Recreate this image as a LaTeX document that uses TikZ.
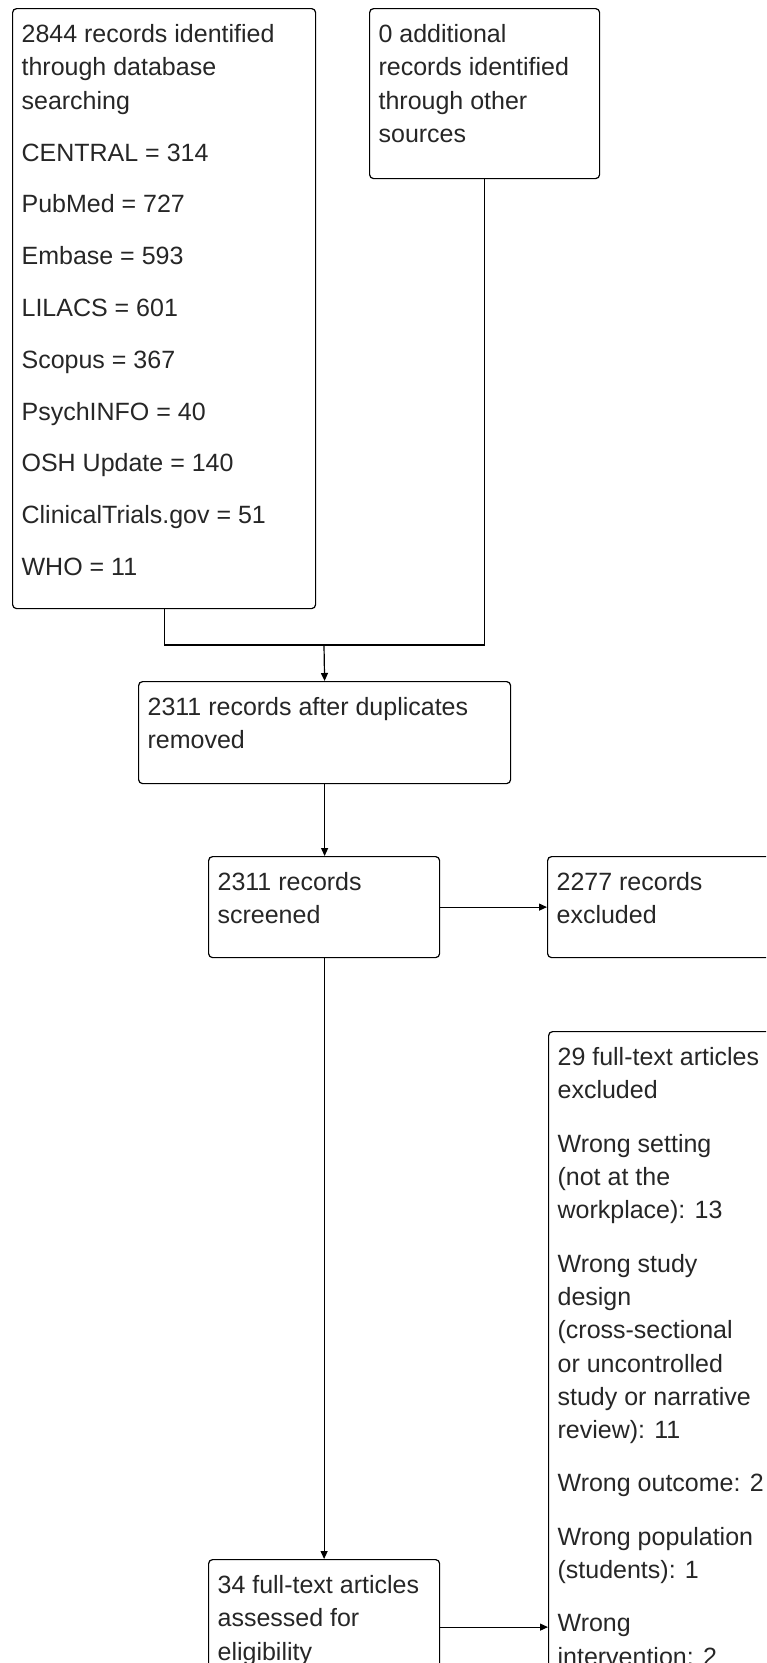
\documentclass[tikz,border=0pt]{standalone}
\usepackage{fontspec}
\setmainfont{Liberation Sans}
\usetikzlibrary{arrows.meta}

% top aligned text block for the boxes: [paragraph gap]{width}{height}{text}
\newcommand{\boxtext}[4][20pt]{\parbox[c][#3][t]{#2}{\raggedright\setlength{\parskip}{#1}\strut #4}}

\begin{document}
\begin{tikzpicture}[x=1pt, y=-1pt,
% Node styles
 box/.style={draw, rounded corners=4pt, line width=1.2pt, anchor=north west,
 inner xsep=9pt, inner ysep=10.7pt, text=black!85,
 font=\fontsize{25}{33.3}\selectfont},
% Edge styles
 edge/.style={draw, line width=1.2pt},
 arrow/.style={edge, -{Triangle[length=8pt, width=7pt]}}
]
\useasboundingbox (0,0) rectangle (766,1663);
\clip (0,0) rectangle (766,1663);
% Identification
\node[box] (ident) at (12,8) {\boxtext[18.5pt]{285pt}{578.6pt}{2844 records identified\\ through database\\ searching\par
 CENTRAL = 314\par PubMed = 727\par Embase = 593\par LILACS = 601\par Scopus = 367\par
 PsychINFO = 40\par OSH Update = 140\par ClinicalTrials.gov = 51\par WHO = 11}};
\node[box] (other) at (369,8) {\boxtext{212pt}{148.6pt}{0 additional\\ records identified\\ through other\\ sources}};
% Screening
\node[box] (dedup) at (138,681) {\boxtext{354pt}{80.6pt}{2311 records after duplicates\\ removed}};
\node[box] (screen) at (208,856) {\boxtext{213pt}{79.6pt}{2311 records\\ screened}};
\node[box] (screenex) at (547,856) {\boxtext{213pt}{79.6pt}{2277 records\\ excluded}};
% Eligibility
\node[box] (fullex) at (548,1031) {\boxtext[20pt]{213pt}{680pt}{29 full-text articles\\ excluded\par
 Wrong setting\\ (not at the\\ workplace): 13\par
 Wrong study\\ design\\ (cross-sectional\\ or uncontrolled\\ study or narrative\\ review): 11\par
 Wrong outcome: 2\par
 Wrong population\\ (students): 1\par
 Wrong\\ intervention: 2}};
\node[box] (full) at (208,1559) {\boxtext{213pt}{113.6pt}{34 full-text articles\\ assessed for\\ eligibility}};
% Connect boxes
\coordinate (join) at (324,645);
\draw[edge] (ident.south) |- (join);
\draw[edge] (other.south) |- (join);
\draw[arrow] (join) -- (dedup.north);
\draw[arrow] (dedup.south) -- (dedup.south |- screen.north);
\draw[arrow] (screen.east) -- (screenex.west);
\draw[arrow] (screen.south) -- (full.north);
\draw[arrow] (full.east) -- (full.east -| fullex.west);
\end{tikzpicture}
\end{document}
